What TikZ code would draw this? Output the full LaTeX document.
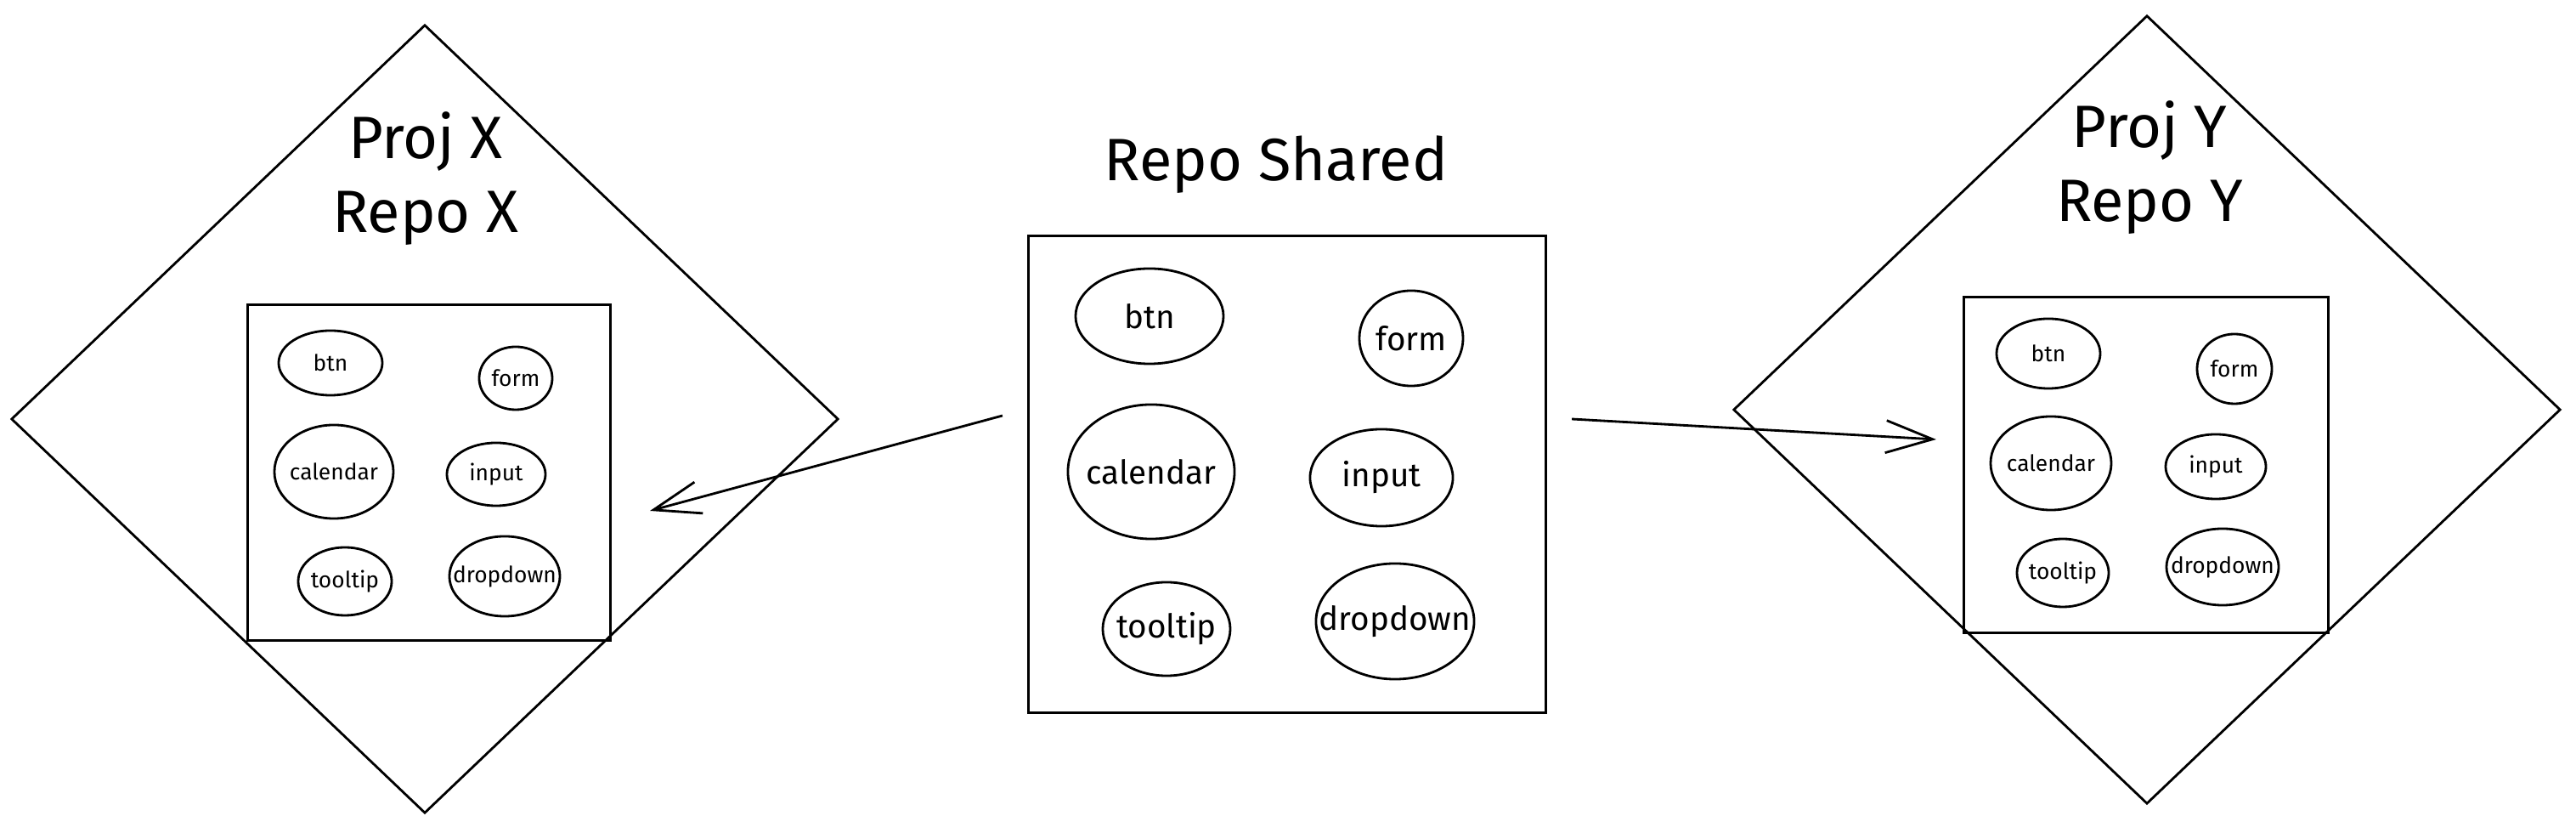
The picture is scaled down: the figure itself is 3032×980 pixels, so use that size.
\documentclass[tikz,border=0pt]{standalone}
\usepackage{fontspec}
\setmainfont{Fira Sans}
\usetikzlibrary{shapes.geometric,arrows.meta}

\begin{document}
\begin{tikzpicture}[x=0.01cm,y=-0.01cm,line width=0.8pt,
  proj/.style={draw,diamond,inner sep=0pt,minimum width=9.73cm,minimum height=9.27cm},
  repo/.style={draw,rectangle,inner sep=0pt},
  title/.style={align=center,font=\fontsize{20}{24.5}\selectfont},
  comp/.style={draw,ellipse,inner sep=0pt,font=\fontsize{7.5}{9}\selectfont,
    execute at begin node={\hbox to 0pt\bgroup\hss},execute at end node={\hss\egroup}},
  bigcomp/.style={comp,font=\fontsize{11}{13}\selectfont},
  link/.style={-{Straight Barb[length=0.55cm,width=0.38cm]}}]
\useasboundingbox (0,0) rectangle (3032,980);
\node[proj] (projx) at (500,493) {};
\node[proj] (projy) at (2527,482) {};
\node[title] (titlex) at (501,210) {Proj X\\Repo X};
\node[title] (titley) at (2530,197) {Proj Y\\Repo Y};
\node[title] (titleshared) at (1502,194) {Repo Shared};
\node[repo, minimum width=4.27cm, minimum height=3.94cm] (repox) at (505,556) {};
\node[repo, minimum width=6.09cm, minimum height=5.6cm] (shared) at (1515,558) {};
\node[repo, minimum width=4.29cm, minimum height=3.94cm] (repoy) at (2526,547) {};
\node[comp, minimum width=1.22cm, minimum height=0.76cm] (xbtn) at (389,427) {btn};
\node[comp, minimum width=0.86cm, minimum height=0.74cm] (xform) at (607,445) {form};
\node[comp, minimum width=1.40cm, minimum height=1.10cm] (xcalendar) at (393,555) {calendar};
\node[comp, minimum width=1.16cm, minimum height=0.74cm] (xinput) at (584,558) {input};
\node[comp, minimum width=1.10cm, minimum height=0.80cm] (xtooltip) at (406,684) {tooltip};
\node[comp, minimum width=1.30cm, minimum height=0.94cm] (xdropdown) at (594,678) {dropdown};
\node[bigcomp, minimum width=1.74cm, minimum height=1.12cm] (sbtn) at (1353,372) {btn};
\node[bigcomp, minimum width=1.22cm, minimum height=1.12cm] (sform) at (1661,398) {form};
\node[bigcomp, minimum width=1.96cm, minimum height=1.58cm] (scalendar) at (1355,555) {calendar};
\node[bigcomp, minimum width=1.68cm, minimum height=1.14cm] (sinput) at (1626,562) {input};
\node[bigcomp, minimum width=1.50cm, minimum height=1.10cm] (stooltip) at (1373,740) {tooltip};
\node[bigcomp, minimum width=1.86cm, minimum height=1.36cm] (sdropdown) at (1642,731) {dropdown};
\node[comp, minimum width=1.22cm, minimum height=0.82cm] (ybtn) at (2411,416) {btn};
\node[comp, minimum width=0.88cm, minimum height=0.82cm] (yform) at (2630,434) {form};
\node[comp, minimum width=1.42cm, minimum height=1.10cm] (ycalendar) at (2414,545) {calendar};
\node[comp, minimum width=1.18cm, minimum height=0.76cm] (yinput) at (2608,549) {input};
\node[comp, minimum width=1.08cm, minimum height=0.80cm] (ytooltip) at (2428,674) {tooltip};
\node[comp, minimum width=1.32cm, minimum height=0.90cm] (ydropdown) at (2616,667) {dropdown};
\draw[link] ([shift={(-29,-69)}]shared.west) -- ([shift={(45,45)}]repox.east);
\draw[link] ([shift={(29,-65)}]shared.east) -- ([shift={(-31,-30)}]repoy.west);
\end{tikzpicture}
\end{document}
